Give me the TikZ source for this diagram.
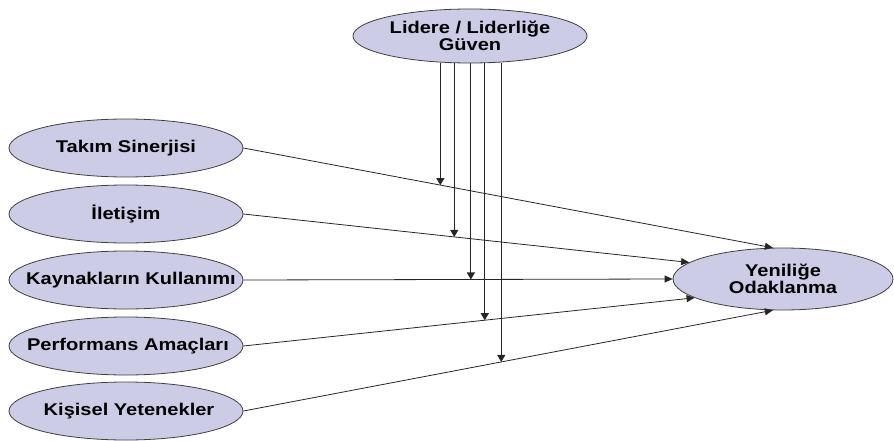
\documentclass[tikz,border=0pt]{standalone}
\usepackage{fontspec}
\setmainfont{Liberation Sans}[FakeStretch=1.18]
\usetikzlibrary{shapes.geometric,arrows.meta}
\definecolor{lavender}{RGB}{204,204,230}
\begin{document}
\begin{tikzpicture}[x=1pt,y=-1pt,
  oval/.style={ellipse,draw=black!75,line width=0.8pt,fill=lavender,inner sep=0pt,
    minimum width=234pt,minimum height=58pt,
    label={[align=center,inner sep=0pt,font=\fontsize{17}{17}\selectfont\bfseries]center:#1}},
  conn/.style={draw=black!85,line width=0.8pt,-{Triangle[length=8pt,width=7pt]}},
  vconn/.style={draw=black!85,line width=1.1pt,-{Triangle[length=7pt,width=8pt]}}]
  \useasboundingbox (0,0) rectangle (894,441);

  % source factors
  \node[oval={Takım Sinerjisi}] (tak) at (126,148) {};
  \node[oval={İletişim}] (ile) at (126,214) {};
  \node[oval={\hspace*{10pt}Kaynakların Kullanımı}] (kay) at (126,280) {};
  \node[oval={\hspace*{4pt}Performans Amaçları}] (per) at (126,346) {};
  \node[oval={\hspace*{6pt}Kişisel Yetenekler}] (kis) at (126,411) {};

  % moderator and outcome
  \node[oval={Lidere / Liderliğe\\Güven},minimum height=54pt] (lid) at (470,36) {};
  \node[oval={Yeniliğe\\Odaklanma},minimum width=220pt,minimum height=62pt] (yen) at (783,279) {};

  % direct paths to the outcome
  \draw[conn] (tak.east) -- coordinate[pos=0.372] (m1) (yen.108);
  \draw[conn] (ile.east) -- coordinate[pos=0.473] (m2) (yen.170);
  \draw[conn] (kay.east) -- coordinate[pos=0.530] (m3) (yen.180);
  \draw[conn] (per.east) -- coordinate[pos=0.535] (m4) (yen.192);
  \draw[conn] (kis.east) -- coordinate[pos=0.487] (m5) (yen.252);

  % moderating paths onto each direct path
  \foreach \m in {m1,m2,m3,m4,m5}
    \draw[vconn] (\m |- lid.south) -- (\m);
\end{tikzpicture}
\end{document}
